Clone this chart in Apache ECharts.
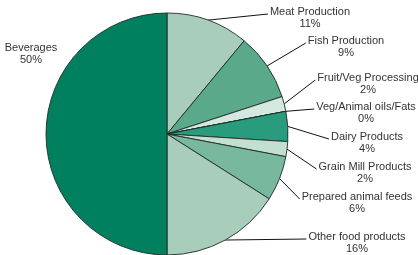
<!DOCTYPE html>
<html lang="en">
<head>
  <meta charset="UTF-8">
  <title>pie</title>
  <style>
    * { margin: 0; padding: 0; }
    body { background: #fff; }
    #chart { width: 418px; height: 255px; }
  </style>
</head>
<body>
  <div id="chart"></div>
  <script src="https://cdn.jsdelivr.net/npm/echarts@6/dist/echarts.min.js"></script>
  <script>
    // categories clockwise from 12 o'clock
    var names = ['Meat Production', 'Fish Production', 'Fruit/Veg Processing', 'Veg/Animal oils/Fats',
      'Dairy Products', 'Grain Mill Products', 'Prepared animal feeds', 'Other food products', 'Beverages']
    var shares = [11, 9, 2, 0, 4, 2, 6, 16, 50]
    var colors = ['#a8cdbb', '#5aa98b', '#d4e8df', '#d4e8df', '#2a9c7e', '#c3dfd2', '#78b89e', '#a8cdbb', '#00805f']

    // where each label sits (text block centre), hand placed like the original
    var labelAt = [[310, 18], [346, 47], [368, 84], [366, 113], [367, 143], [365, 173], [357, 203], [357, 243], [31, 54]]

    var data = names.map(function (n, i) {
      var d = { name: n, value: shares[i], itemStyle: { color: colors[i] } }
      if (n === 'Beverages') d.labelLine = { show: false }
      return d
    })

    var chart = echarts.init(document.getElementById('chart'), null, { renderer: 'canvas' })

    chart.setOption({
      animation: false,
      series: [{
        type: 'pie',
        center: [167, 134],
        radius: 121,
        startAngle: 90,
        clockwise: true,
        data: data,
        itemStyle: { borderColor: '#1e2b26', borderWidth: 0.9 },
        label: {
          show: true,
          position: 'outside',
          formatter: '{b}\n{d}%',
          fontFamily: 'Liberation Sans, Arial, sans-serif',
          fontSize: 11,
          lineHeight: 12.5,
          color: '#333',
          overflow: 'none'
        },
        labelLine: {
          show: true,
          length: 10,
          length2: 20,
          lineStyle: { color: '#111', width: 1 }
        },
        labelLayout: function (p) {
          var pos = labelAt[p.dataIndex]
          var out = { x: pos[0], y: pos[1], align: 'center', verticalAlign: 'middle' }
          if (p.labelLinePoints) {
            var start = p.labelLinePoints[0]
            var end = [pos[0] - p.labelRect.width / 2 - 2, pos[1] - 4]
            out.labelLinePoints = [start, end]
          }
          return out
        },
        emphasis: { disabled: true }
      }]
    })
  </script>
</body>
</html>
